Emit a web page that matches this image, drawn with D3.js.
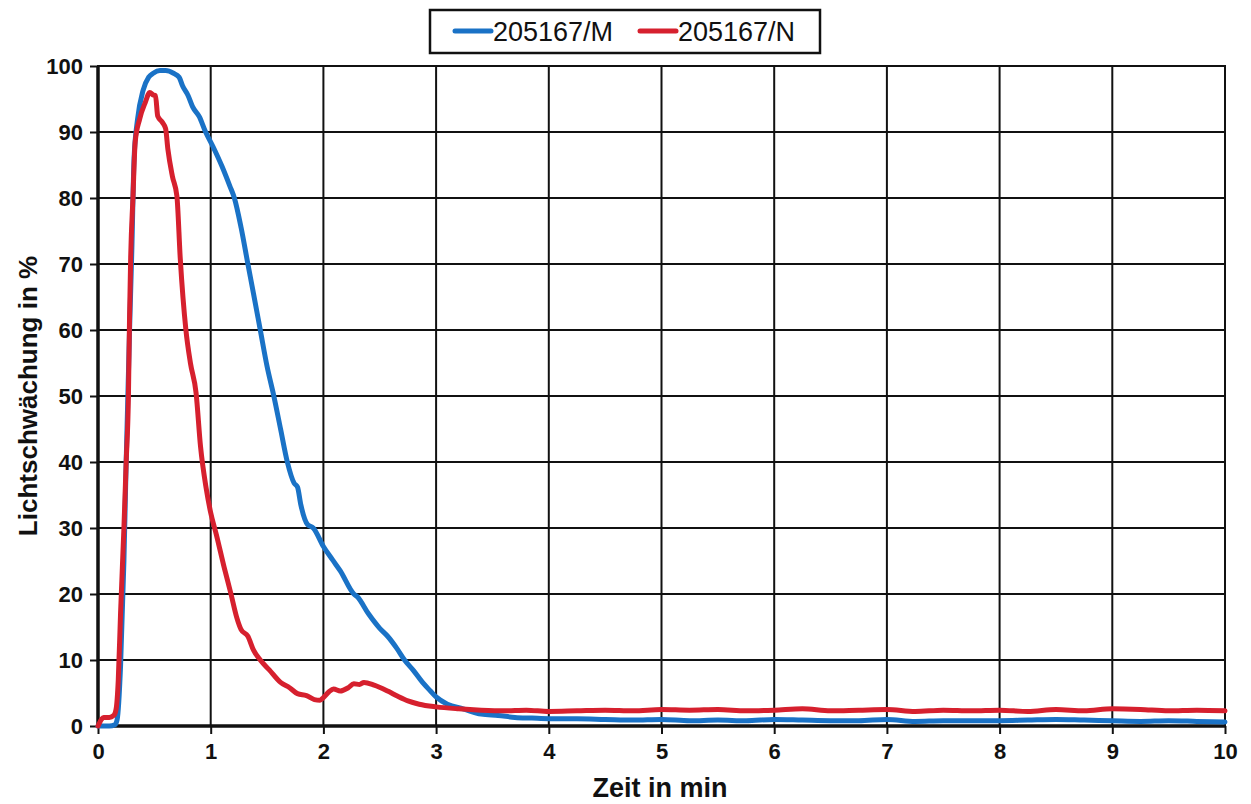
<!DOCTYPE html>
<html>
<head>
<meta charset="utf-8">
<script src="https://cdn.jsdelivr.net/npm/d3@7"></script>
<style>
  body { margin: 0; background: #fff; }
  svg { display: block; font-family: "Liberation Sans", Arial, sans-serif; }
</style>
</head>
<body>
<div id="wrapper"></div>
<script>
// DATA
const SERIES_NAMES = [`205167/M`, `205167/N`];
const SERIES_COLORS = [`#1a72c6`, `#d6202e`];

const X_TICKS = [0, 1, 2, 3, 4, 5, 6, 7, 8, 9, 10];
const Y_TICKS = [0, 10, 20, 30, 40, 50, 60, 70, 80, 90, 100];

const timeM = [0, 0.1, 0.15, 0.17, 0.2, 0.23, 0.25, 0.28, 0.3, 0.32, 0.35, 0.4, 0.45, 0.49, 0.55, 0.6, 0.67, 0.72, 0.75, 0.8, 0.84, 0.9, 0.95, 1.02, 1.1, 1.17, 1.21, 1.27, 1.33, 1.38, 1.44, 1.5, 1.56, 1.62, 1.68, 1.74, 1.77, 1.8, 1.86, 1.91, 2.0, 2.08, 2.15, 2.27, 2.3, 2.4, 2.5, 2.57, 2.65, 2.72, 2.8, 2.88, 2.95, 3.0, 3.1, 3.24, 3.4, 3.55, 3.7, 3.85, 4.0, 4.25, 4.5, 4.75, 5.0, 5.25, 5.5, 5.75, 6.0, 6.25, 6.5, 6.75, 7.0, 7.25, 7.5, 7.75, 8.0, 8.25, 8.5, 8.75, 9.0, 9.25, 9.5, 9.75, 10.0];
const valuesM = [0, 0, 0.2, 1, 9, 25, 40, 60, 72, 86, 91.8, 96.3, 98.3, 98.9, 99.3, 99.3, 98.9, 98.3, 97, 95.5, 93.8, 92.3, 90.2, 87.8, 84.8, 81.8, 80, 75.5, 70, 65.5, 60, 54.5, 50, 45, 40, 36.8, 36.2, 33.5, 30.5, 30, 27.2, 25.2, 23.5, 20, 19.6, 17, 14.8, 13.6, 11.8, 10, 8.4, 6.6, 5.3, 4.4, 3.3, 2.6, 1.8, 1.6, 1.3, 1.2, 1.1, 1.1, 1.0, 0.9, 1.0, 0.8, 0.9, 0.8, 1.0, 0.9, 0.8, 0.8, 1.0, 0.7, 0.8, 0.8, 0.8, 0.9, 1.0, 0.9, 0.8, 0.7, 0.8, 0.7, 0.6];

const timeN = [0, 0.03, 0.05, 0.1, 0.14, 0.16, 0.18, 0.2, 0.23, 0.25, 0.27, 0.28, 0.29, 0.31, 0.33, 0.37, 0.42, 0.46, 0.49, 0.51, 0.53, 0.57, 0.6, 0.62, 0.66, 0.7, 0.73, 0.78, 0.82, 0.87, 0.91, 0.96, 1.0, 1.05, 1.12, 1.18, 1.23, 1.27, 1.33, 1.38, 1.44, 1.52, 1.62, 1.7, 1.77, 1.85, 1.92, 1.97, 2.0, 2.05, 2.09, 2.15, 2.22, 2.27, 2.32, 2.36, 2.45, 2.57, 2.66, 2.75, 2.85, 3.0, 3.2, 3.4, 3.6, 3.8, 4.0, 4.25, 4.5, 4.75, 5.0, 5.25, 5.5, 5.75, 6.0, 6.25, 6.5, 6.75, 7.0, 7.25, 7.5, 7.75, 8.0, 8.25, 8.5, 8.75, 9.0, 9.25, 9.5, 9.75, 10.0];
const valuesN = [0, 1.0, 1.3, 1.3, 1.6, 2.5, 7, 17, 30, 40, 50, 62, 71, 80, 88.5, 92, 94.5, 96, 95.6, 95.5, 92.4, 91.5, 90.5, 87.4, 83.3, 80.3, 70.8, 60, 55, 50.5, 42.3, 36, 32.3, 29, 24, 20, 16.5, 14.6, 13.6, 11.5, 10, 8.5, 6.6, 5.8, 4.9, 4.6, 4.0, 3.9, 4.3, 5.2, 5.6, 5.3, 5.8, 6.4, 6.3, 6.6, 6.2, 5.3, 4.5, 3.8, 3.3, 2.9, 2.6, 2.4, 2.3, 2.4, 2.2, 2.3, 2.4, 2.3, 2.5, 2.4, 2.5, 2.3, 2.4, 2.6, 2.3, 2.4, 2.5, 2.2, 2.4, 2.3, 2.4, 2.2, 2.5, 2.3, 2.6, 2.5, 2.3, 2.4, 2.3];

const zip = (times, values) => times.map((t, i) => ({ t, v: values[i] }));
const SERIES = [zip(timeM, valuesM), zip(timeN, valuesN)];

// GRAPH
const W = 1251;
const H = 804;
const margin = { top: 66, right: 26, bottom: 78, left: 98 };
const width = W - margin.left - margin.right;
const height = H - margin.top - margin.bottom;

const root = d3.select(`#wrapper`)
  .append(`svg`)
  .attr(`width`, W)
  .attr(`height`, H);

const svg = root.append(`g`)
  .attr(`transform`, `translate(${margin.left}, ${margin.top})`);

// SCALES
const xScale = d3.scaleLinear().domain([0, 10]).range([0, width]);
const yScale = d3.scaleLinear().domain([0, 100]).range([height, 0]);

// GRID
svg.append(`g`)
  .selectAll(`line`)
  .data(Y_TICKS)
  .join(`line`)
  .attr(`x1`, 0).attr(`x2`, width)
  .attr(`y1`, d => yScale(d)).attr(`y2`, d => yScale(d))
  .attr(`stroke`, `#111`)
  .attr(`stroke-width`, 2);

svg.append(`g`)
  .selectAll(`line`)
  .data(X_TICKS)
  .join(`line`)
  .attr(`y1`, 0).attr(`y2`, height)
  .attr(`x1`, d => xScale(d)).attr(`x2`, d => xScale(d))
  .attr(`stroke`, `#111`)
  .attr(`stroke-width`, 2);

// AXES
const xAxis = d3.axisBottom(xScale).tickValues(X_TICKS).tickSize(8).tickPadding(9).tickFormat(d3.format(`d`));
const yAxis = d3.axisLeft(yScale).tickValues(Y_TICKS).tickSize(8).tickPadding(7).tickFormat(d3.format(`d`));

const styleAxis = g => {
  g.select(`.domain`).remove();
  g.attr(`font-size`, null).attr(`font-family`, null);
  g.selectAll(`.tick line`).attr(`stroke`, `#111`).attr(`stroke-width`, 2);
  g.selectAll(`.tick text`)
    .attr(`fill`, `#111`)
    .style(`font-size`, `22px`)
    .style(`font-weight`, `bold`);
};

svg.append(`g`)
  .attr(`transform`, `translate(0, ${height})`)
  .call(xAxis)
  .call(styleAxis);

svg.append(`g`)
  .call(yAxis)
  .call(styleAxis);

// FRAME (left and bottom thicker)
svg.append(`rect`)
  .attr(`width`, width).attr(`height`, height)
  .attr(`fill`, `none`)
  .attr(`stroke`, `#111`)
  .attr(`stroke-width`, 2);

svg.append(`line`)
  .attr(`x1`, 0).attr(`x2`, 0).attr(`y1`, 0).attr(`y2`, height)
  .attr(`stroke`, `#111`).attr(`stroke-width`, 3.5);

svg.append(`line`)
  .attr(`x1`, 0).attr(`x2`, width).attr(`y1`, height).attr(`y2`, height)
  .attr(`stroke`, `#111`).attr(`stroke-width`, 3.5);

// LINES
const line = d3.line()
  .x(d => xScale(d.t))
  .y(d => yScale(d.v))
  .curve(d3.curveMonotoneX);

svg.append(`g`)
  .selectAll(`path`)
  .data(SERIES)
  .join(`path`)
  .attr(`d`, line)
  .attr(`fill`, `none`)
  .attr(`stroke`, (d, i) => SERIES_COLORS[i])
  .attr(`stroke-width`, 5)
  .attr(`stroke-linejoin`, `round`)
  .attr(`stroke-linecap`, `round`);

// AXIS TITLES
root.append(`text`)
  .attr(`x`, 660)
  .attr(`y`, 797)
  .attr(`text-anchor`, `middle`)
  .attr(`fill`, `#111`)
  .style(`font-size`, `27px`)
  .style(`font-weight`, `bold`)
  .text(`Zeit in min`);

root.append(`text`)
  .attr(`transform`, `translate(37, 396) rotate(-90)`)
  .attr(`text-anchor`, `middle`)
  .attr(`fill`, `#111`)
  .style(`font-size`, `26px`)
  .style(`font-weight`, `bold`)
  .text(`Lichtschwächung in %`);

// LEGEND
const legend = root.append(`g`);

legend.append(`rect`)
  .attr(`x`, 430).attr(`y`, 10)
  .attr(`width`, 390).attr(`height`, 43)
  .attr(`fill`, `#fff`)
  .attr(`stroke`, `#111`)
  .attr(`stroke-width`, 2.5);

const legendX = [455, 640];

const item = legend.selectAll(`.item`)
  .data(SERIES_NAMES)
  .join(`g`)
  .attr(`class`, `item`)
  .attr(`transform`, (d, i) => `translate(${legendX[i]}, 31)`);

item.append(`line`)
  .attr(`x1`, 0).attr(`x2`, 36)
  .attr(`stroke`, (d, i) => SERIES_COLORS[i])
  .attr(`stroke-width`, 5)
  .attr(`stroke-linecap`, `round`);

item.append(`text`)
  .attr(`x`, 38)
  .attr(`y`, 10)
  .attr(`fill`, `#111`)
  .style(`font-size`, `27px`)
  .text(d => d);
</script>
</body>
</html>
